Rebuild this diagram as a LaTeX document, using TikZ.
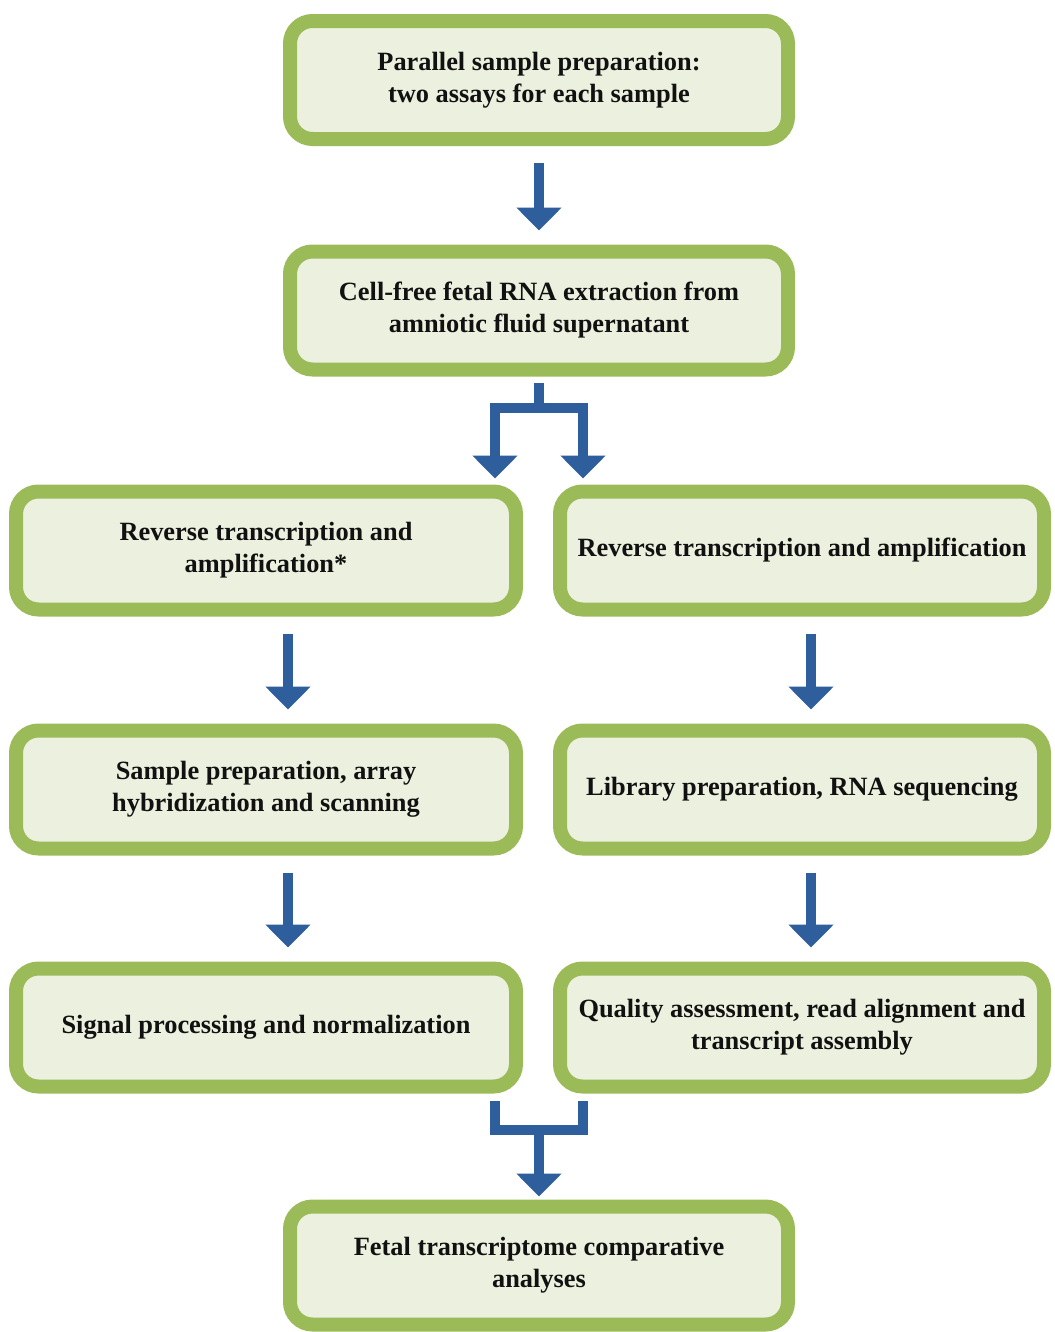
\documentclass[tikz,border=0pt]{standalone}
\usepackage{fontspec}
\setmainfont{Liberation Serif}
\usetikzlibrary{calc}
\usetikzlibrary{arrows.meta}
\definecolor{GREEN}{HTML}{9BBB59}
\definecolor{PALE}{HTML}{EBF1DE}
\definecolor{BLUE}{HTML}{2E5E9C}
\definecolor{INK}{HTML}{111111}

\begin{document}
\begin{tikzpicture}[
    stage/.style={draw=GREEN, fill=PALE, line width=0.28cm, rounded corners=0.45cm,
        minimum height=2.36cm, inner sep=0pt, align=center, text=INK,
        font=\fontsize{15}{18.2}\selectfont\bfseries},
    pipe/.style={BLUE, line width=0.2cm},
    flow/.style={pipe, -{Triangle[width=0.88cm, length=0.46cm]}},
    link/.style={flow, shorten <=0.34cm, shorten >=0.28cm}]
    \useasboundingbox (0,0) rectangle (21.1,-26.64);
    % boxes
    \node[stage, minimum width=9.96cm] (prep) at (10.78,-1.60) {Parallel sample preparation:\\two assays for each sample};
    \node[stage, minimum width=9.96cm] (extract) at (10.78,-6.21) {Cell-free fetal RNA extraction from\\amniotic fluid supernatant};
    \node[stage, minimum width=10cm] (rtl) at (5.32,-11.01) {Reverse transcription and\\amplification*};
    \node[stage, minimum width=9.68cm] (rtr) at (16.04,-11.01) {Reverse transcription and amplification};
    \node[stage, minimum width=10cm] (array) at (5.32,-15.79) {Sample preparation, array\\hybridization and scanning};
    \node[stage, minimum width=9.68cm] (library) at (16.04,-15.79) {Library preparation, RNA sequencing};
    \node[stage, minimum width=10cm] (signal) at (5.32,-20.55) {Signal processing and normalization};
    \node[stage, minimum width=9.68cm] (quality) at (16.04,-20.55) {Quality assessment, read alignment and\\transcript assembly};
    \node[stage, minimum width=9.96cm] (compare) at (10.78,-25.31) {Fetal transcriptome comparative\\analyses};
    % arrows
    \draw[link] (prep) -- (extract);
    \draw[link] ([xshift=0.44cm]rtl.south) -- ([xshift=0.44cm]array.north);
    \draw[link] ([xshift=0.44cm]array.south) -- ([xshift=0.44cm]signal.north);
    \draw[link] ([xshift=0.18cm]rtr.south) -- ([xshift=0.18cm]library.north);
    \draw[link] ([xshift=0.18cm]library.south) -- ([xshift=0.18cm]quality.north);
    % split and merge
    \coordinate (split) at (10.78,-8.16);
    \coordinate (merge) at (10.78,-22.60);
    \draw[pipe] ([yshift=-0.12cm]extract.south) -- (split);
    \draw[flow, shorten >=0.12cm] (split) -| ($(split |- rtl.north)+(-0.88,0)$);
    \draw[flow, shorten >=0.12cm] (split) -| ($(split |- rtr.north)+(0.88,0)$);
    \draw[pipe] ($(signal.south -| merge)+(-0.88,-0.14)$) |- (merge) -| ($(quality.south -| merge)+(0.88,-0.14)$);
    \draw[flow, shorten >=0.06cm] (merge) -- (compare);
\end{tikzpicture}
\end{document}
